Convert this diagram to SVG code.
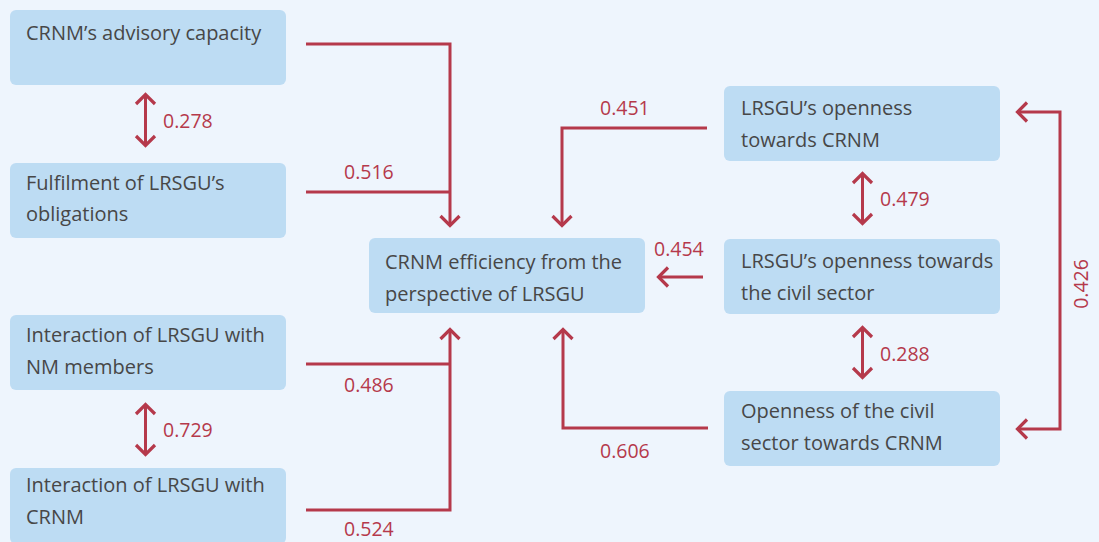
<svg xmlns="http://www.w3.org/2000/svg" width="1099" height="542" viewBox="0 0 1099 542">
<defs>
<style>
.box{fill:#bddcf3}
.t{font-family:"Open Sans","Liberation Sans",sans-serif;font-size:20px;fill:#474747}
.n{font-family:"Open Sans","Liberation Sans",sans-serif;font-size:19.5px;fill:#b5394b}
.c{fill:none;stroke:#b5394b;stroke-width:3}
</style>
<marker id="ah" viewBox="-14 -12 16 24" refX="0" refY="0" markerWidth="16" markerHeight="24" markerUnits="userSpaceOnUse" orient="auto-start-reverse">
<path d="M-10,-9.5 L-0.5,0 L-10,9.5" fill="none" stroke="#b5394b" stroke-width="3.2"/>
</marker>
</defs>
<rect width="1099" height="542" fill="#eef5fd"/>
<g id="n1"><rect class="box" x="10" y="10" width="276" height="75" rx="6"/><text class="t" x="26" y="40">CRNM’s advisory capacity</text></g>
<g id="n2"><rect class="box" x="10" y="163" width="276" height="75" rx="6"/><text class="t" x="26" y="190">Fulfilment of LRSGU’s</text><text class="t" x="26" y="221">obligations</text></g>
<g id="n3"><rect class="box" x="10" y="315" width="276" height="75" rx="6"/><text class="t" x="26" y="342">Interaction of LRSGU with</text><text class="t" x="26" y="374">NM members</text></g>
<g id="n4"><rect class="box" x="10" y="468" width="276" height="76" rx="6"/><text class="t" x="26" y="492">Interaction of LRSGU with</text><text class="t" x="26" y="524">CRNM</text></g>
<g id="center"><rect class="box" x="369" y="238" width="276" height="75" rx="6"/><text class="t" x="385" y="269">CRNM efficiency from the</text><text class="t" x="385" y="301">perspective of LRSGU</text></g>
<g id="r1"><rect class="box" x="724" y="86" width="276" height="75" rx="6"/><text class="t" x="741" y="115">LRSGU’s openness</text><text class="t" x="741" y="147">towards CRNM</text></g>
<g id="r2"><rect class="box" x="724" y="239" width="276" height="75" rx="6"/><text class="t" x="741" y="268">LRSGU’s openness towards</text><text class="t" x="741" y="300">the civil sector</text></g>
<g id="r3"><rect class="box" x="724" y="391" width="276" height="75" rx="6"/><text class="t" x="741" y="418">Openness of the civil</text><text class="t" x="741" y="450">sector towards CRNM</text></g>
<g id="connectors">
<path class="c" d="M306,44 H450 V226" marker-end="url(#ah)"/>
<path class="c" d="M306,192 H450"/>
<path class="c" d="M306,510 H450 V329" marker-end="url(#ah)"/>
<path class="c" d="M306,364 H450"/>
<path class="c" d="M707,128 H562 V226" marker-end="url(#ah)"/>
<path class="c" d="M708,428 H563 V329" marker-end="url(#ah)"/>
<path class="c" d="M703,277 H658" marker-end="url(#ah)"/>
<path class="c" d="M1017,112 H1060 V429 H1017" marker-start="url(#ah)" marker-end="url(#ah)"/>
<path class="c" d="M145.5,94 V146" marker-start="url(#ah)" marker-end="url(#ah)"/>
<path class="c" d="M145.5,404 V455" marker-start="url(#ah)" marker-end="url(#ah)"/>
<path class="c" d="M862.5,173 V224" marker-start="url(#ah)" marker-end="url(#ah)"/>
<path class="c" d="M862.5,327 V378" marker-start="url(#ah)" marker-end="url(#ah)"/>
<text class="n" x="163" y="128">0.278</text>
<text class="n" x="163" y="437">0.729</text>
<text class="n" x="344" y="179">0.516</text>
<text class="n" x="344" y="392">0.486</text>
<text class="n" x="344" y="536">0.524</text>
<text class="n" x="600" y="115">0.451</text>
<text class="n" x="654" y="256">0.454</text>
<text class="n" x="600" y="458">0.606</text>
<text class="n" x="880" y="206">0.479</text>
<text class="n" x="880" y="361">0.288</text>
<text class="n" transform="translate(1088,284) rotate(-90)" text-anchor="middle">0.426</text>
</g>
</svg>
